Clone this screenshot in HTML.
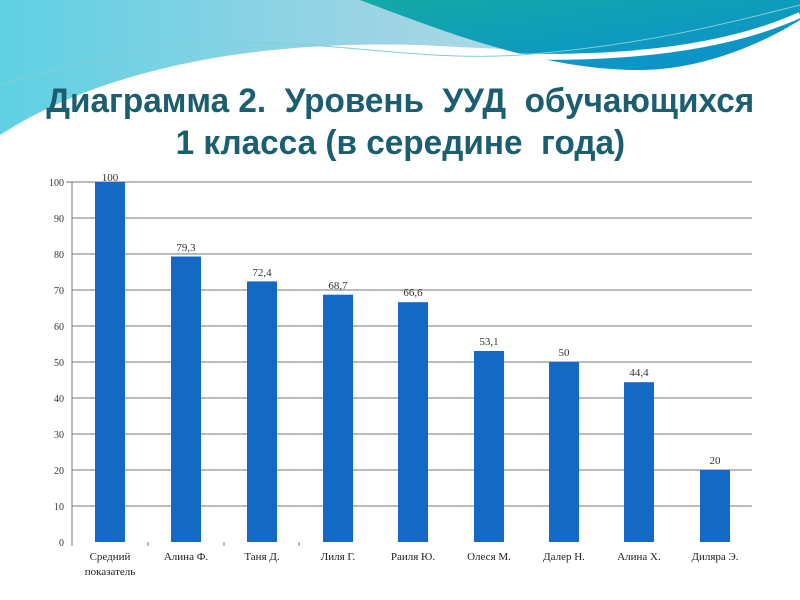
<!DOCTYPE html>
<html><head><meta charset="utf-8"><style>
body{margin:0;width:800px;height:600px;background:#fff;overflow:hidden;position:relative;font-family:"Liberation Sans",sans-serif}
.t{position:absolute;left:0;width:800px;text-align:center;color:#1b5e70;font-weight:bold;font-size:34px;white-space:nowrap}
.t span{display:inline-block;transform:scaleX(0.98)}
</style></head><body>
<svg width="800" height="600" style="position:absolute;left:0;top:0">
<defs>
<linearGradient id="g1" x1="0" y1="0" x2="1" y2="0"><stop offset="0" stop-color="#5fd0e3"/><stop offset="0.5" stop-color="#9fd4e4"/><stop offset="1" stop-color="#c8e8f0"/></linearGradient>
<linearGradient id="g2" x1="0" y1="0" x2="1" y2="1"><stop offset="0" stop-color="#14a9a6"/><stop offset="1" stop-color="#0a8fd0"/></linearGradient>
</defs>
<path d="M0 0 H800 V20 C650 60 520 50 420 45 C250 40 100 70 0 135 Z" fill="url(#g1)"/>
<path d="M360 0 H800 V20 C760 45 700 70 640 70 C540 70 440 30 360 0 Z" fill="url(#g2)"/>
<path d="M0 140 C120 65 260 45 420 52 C560 62 700 60 800 15" stroke="#fff" stroke-width="6" fill="none"/>
<path d="M0 85 C80 62 150 45 230 43 C330 40 420 62 520 55 C650 45 740 20 800 5" stroke="#7fcfd8" stroke-width="1" fill="none"/>
<g stroke="#777" stroke-width="1">
<line x1="72" y1="182" x2="752" y2="182"/><line x1="72" y1="218" x2="752" y2="218"/><line x1="72" y1="254" x2="752" y2="254"/><line x1="72" y1="290" x2="752" y2="290"/><line x1="72" y1="326" x2="752" y2="326"/><line x1="72" y1="362" x2="752" y2="362"/><line x1="72" y1="398" x2="752" y2="398"/><line x1="72" y1="434" x2="752" y2="434"/><line x1="72" y1="470" x2="752" y2="470"/><line x1="72" y1="506" x2="752" y2="506"/>
<line x1="72" y1="182" x2="72" y2="546"/><line x1="66" y1="182" x2="72" y2="182"/>
<line x1="148" y1="542" x2="148" y2="546"/><line x1="224" y1="542" x2="224" y2="546"/><line x1="299" y1="542" x2="299" y2="546"/>
</g>
<g fill="#1469c4">
<rect x="95" y="182" width="30" height="360"/>
<rect x="171" y="256.5" width="30" height="285.5"/>
<rect x="247" y="281.4" width="30" height="260.6"/>
<rect x="323" y="294.7" width="30" height="247.3"/>
<rect x="398" y="302.2" width="30" height="239.8"/>
<rect x="474" y="351" width="30" height="191"/>
<rect x="549" y="362" width="30" height="180"/>
<rect x="624" y="382.2" width="30" height="159.8"/>
<rect x="700" y="470" width="30" height="72"/>
</g>
<g font-family="Liberation Serif,serif" font-size="10" fill="#333" text-anchor="end">
<text x="64" y="186">100</text><text x="64" y="222">90</text><text x="64" y="258">80</text><text x="64" y="294">70</text><text x="64" y="330">60</text><text x="64" y="366">50</text><text x="64" y="402">40</text><text x="64" y="438">30</text><text x="64" y="474">20</text><text x="64" y="510">10</text><text x="64" y="546">0</text>
</g>
<g font-family="Liberation Serif,serif" font-size="11" fill="#333" text-anchor="middle">
<text x="110" y="181">100</text><text x="186" y="251">79,3</text><text x="262" y="276">72,4</text><text x="338" y="289">68,7</text><text x="413" y="296">66,6</text><text x="489" y="345">53,1</text><text x="564" y="356">50</text><text x="639" y="376">44,4</text><text x="715" y="464">20</text>
</g>
<g font-family="Liberation Serif,serif" font-size="11" fill="#222" text-anchor="middle">
<text x="110" y="560">Средний</text><text x="110" y="575">показатель</text><text x="186" y="560">Алина Ф.</text><text x="262" y="560">Таня Д.</text><text x="338" y="560">Лиля Г.</text><text x="413" y="560">Раиля Ю.</text><text x="489" y="560">Олеся М.</text><text x="564" y="560">Далер Н.</text><text x="639" y="560">Алина Х.</text><text x="715" y="560">Диляра Э.</text>
</g>
</svg>
<div class="t" style="top:82px"><span>Диаграмма 2.&nbsp; Уровень&nbsp; УУД&nbsp; обучающихся</span></div>
<div class="t" style="top:124px"><span>1 класса (в середине&nbsp; года)</span></div>
</body></html>
